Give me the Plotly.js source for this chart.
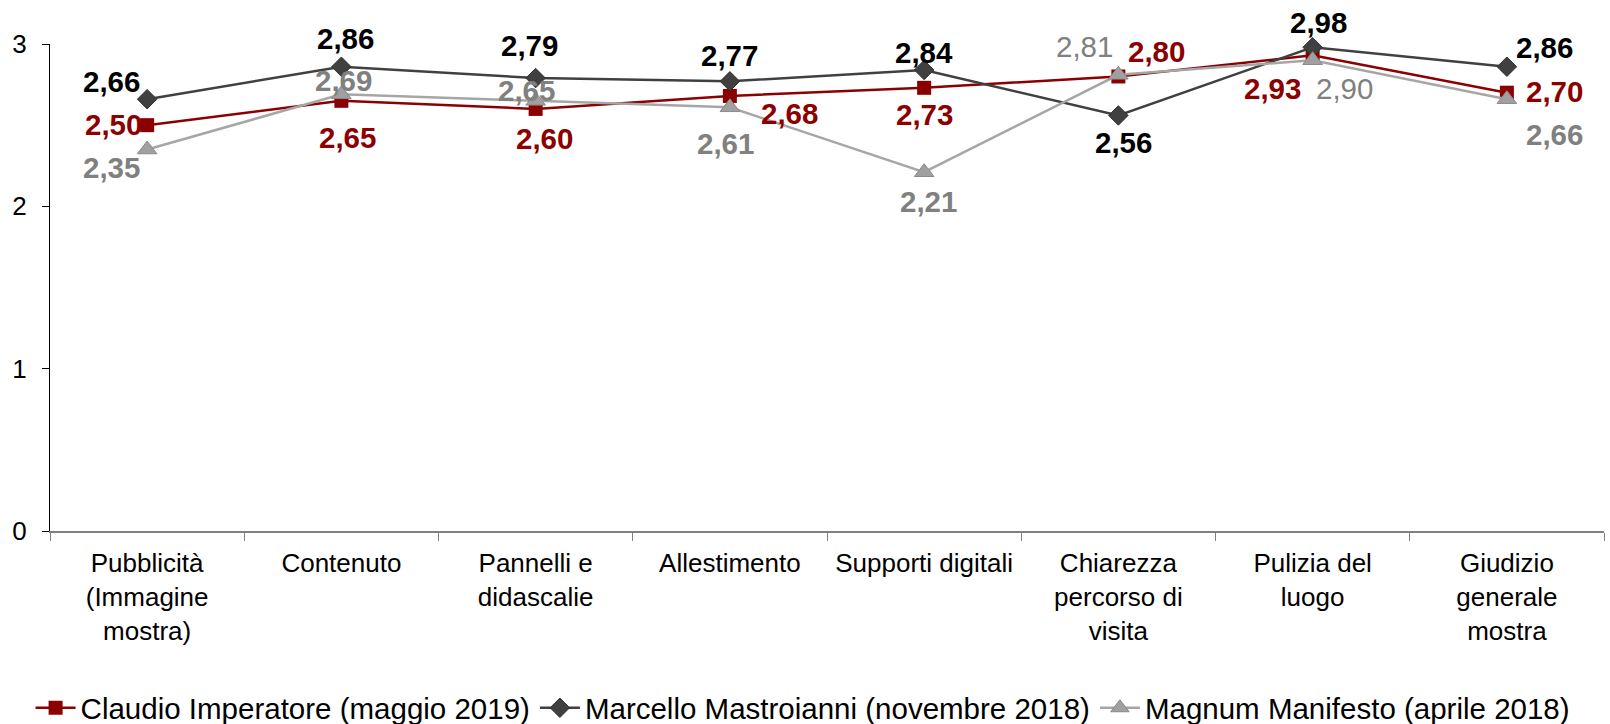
<!DOCTYPE html>
<html>
<head>
<meta charset="utf-8">
<script src="https://cdn.plot.ly/plotly-3.0.1.min.js"></script>
<style>html,body{margin:0;padding:0;background:#fff;}#chart{width:1610px;height:724px;}</style>
</head>
<body>
<div id="chart"></div>
<script>
const categories = ["Pubblicità<br>(Immagine<br>mostra)", "Contenuto", "Pannelli e<br>didascalie", "Allestimento", "Supporti digitali", "Chiarezza<br>percorso di<br>visita", "Pulizia del<br>luogo", "Giudizio<br>generale<br>mostra"];
const seriesNames = ["Claudio Imperatore (maggio 2019)", "Marcello Mastroianni (novembre 2018)", "Magnum Manifesto (aprile 2018)"];
const claudio = [2.50, 2.65, 2.60, 2.68, 2.73, 2.80, 2.93, 2.70];
const marcello = [2.66, 2.86, 2.79, 2.77, 2.84, 2.56, 2.98, 2.86];
const magnum = [2.35, 2.69, 2.65, 2.61, 2.21, 2.81, 2.90, 2.66];
const yTicks = [0, 1, 2, 3];

// label placement (pixel offsets) and weights — styling only
const labelOffsets = [
  {dx: [-34, 6, 9, 60, 0, 38, -40, 48], dy: [1, -37, -30, -18, -27, 25, -33, 1]},
  {dx: [-36, 4, -6, 0, 0, 5, 6, 38], dy: [18, 28, 33, 26, 17, -27, 25, 19]},
  {dx: [-36, 2, -9, -4, 4, -34, 32, 48], dy: [-18, 14, 10, -36, -29, 28, -28, -35]}
];
const magnumBold = [true, true, true, true, true, false, false, true];

const FONT = "Liberation Sans, Arial, sans-serif";
const seriesData = [claudio, marcello, magnum];
const labelColors = ["#8B0000", "#000000", "#808080"];

const traces = [
  {
    x: categories, y: claudio, name: seriesNames[0], type: "scatter", mode: "lines+markers",
    line: {color: "#8B0000", width: 2.5},
    marker: {symbol: "square", size: 14, color: "#8B0000"},
    cliponaxis: false
  },
  {
    x: categories, y: marcello, name: seriesNames[1], type: "scatter", mode: "lines+markers",
    line: {color: "#404040", width: 2.5},
    marker: {symbol: "diamond", size: 15, color: "#404040", line: {color: "#303030", width: 1}},
    cliponaxis: false
  },
  {
    x: categories, y: magnum, name: seriesNames[2], type: "scatter", mode: "lines+markers",
    line: {color: "#A6A6A6", width: 2.5},
    marker: {symbol: "triangle-up", size: 17, color: "#A0A0A0", line: {color: "#8A8A8A", width: 1}},
    cliponaxis: false
  }
];

const annotations = [];
seriesData.forEach((vals, s) => {
  vals.forEach((v, i) => {
    const bold = s === 2 ? magnumBold[i] : true;
    annotations.push({
      x: categories[i], y: v, xref: "x", yref: "y",
      text: v.toFixed(2).replace(".", ","),
      showarrow: false, xanchor: "center", yanchor: "middle",
      xshift: labelOffsets[s].dx[i], yshift: labelOffsets[s].dy[i],
      font: {family: FONT, size: 29.5, color: labelColors[s], weight: bold ? "bold" : "normal"}
    });
  });
});

const layout = {
  width: 1610, height: 724,
  margin: {l: 50, r: 6, t: 44, b: 193, autoexpand: false},
  paper_bgcolor: "#ffffff", plot_bgcolor: "#ffffff",
  showlegend: true,
  legend: {
    orientation: "h", xref: "container", yref: "container",
    x: 0.019, xanchor: "left", y: 0.022, yanchor: "middle",
    font: {family: FONT, size: 29.5, color: "#000"},
    itemwidth: 40, tracegroupgap: 0, traceorder: "normal", bgcolor: "rgba(0,0,0,0)"
  },
  xaxis: {
    type: "category", range: [-0.5, 7.5], autorange: false,
    tickson: "boundaries", ticks: "outside", ticklen: 8, tickcolor: "#808080", tickwidth: 1,
    showline: true, linecolor: "#808080", linewidth: 2, showgrid: false, zeroline: false,
    ticklabelstandoff: 8, automargin: false,
    tickfont: {family: FONT, size: 26, color: "#000"}, tickangle: 0, fixedrange: true
  },
  yaxis: {
    range: [0, 3], autorange: false, tickvals: yTicks, ticktext: yTicks.map(String), ticks: "outside", ticklen: 7,
    tickcolor: "#000", tickwidth: 1, showline: true, linecolor: "#000", linewidth: 1,
    showgrid: false, zeroline: false, ticklabelstandoff: 10, automargin: false,
    tickfont: {family: FONT, size: 26, color: "#000"}, fixedrange: true
  },
  annotations: annotations
};

Plotly.newPlot("chart", traces, layout, {displayModeBar: false, staticPlot: true});
</script>
</body>
</html>
